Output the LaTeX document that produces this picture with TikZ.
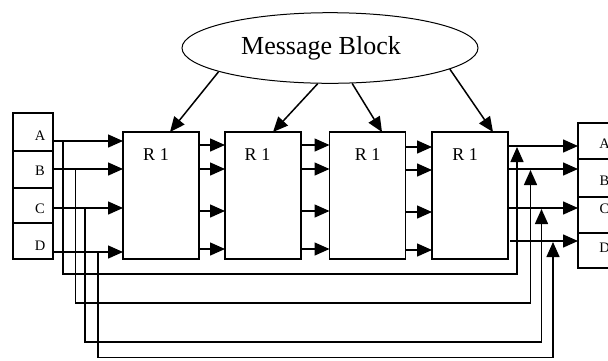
\documentclass[tikz,border=0pt]{standalone}
\usepackage{fontspec}
\setmainfont{Liberation Serif}
\usetikzlibrary{shapes.geometric,arrows.meta,calc}
\begin{document}
\begin{tikzpicture}[x=1pt,y=-1pt,
  wire/.style={line width=1.5pt},
  arr/.style={wire,-{Triangle[length=15pt,width=13pt]}},
  io/.style={draw,line width=1.2pt,minimum width=40pt,inner sep=0pt,outer sep=0pt},
  rbox/.style={draw,line width=1.5pt,minimum width=76pt,minimum height=127pt,inner sep=0pt,outer sep=0pt},
  iolab/.style={font=\fontsize{14.5}{16}\selectfont,inner sep=0pt},
  rlab/.style={font=\fontsize{18}{20}\selectfont,inner sep=0pt}]
\useasboundingbox (0,0) rectangle (608,360);
\clip (0,0) rectangle (608,360);

% message block
\node[draw,ellipse,line width=1pt,minimum width=296pt,minimum height=70.6pt,inner sep=0pt] (mb) at (330,48) {};
\node[font=\fontsize{26}{28}\selectfont,inner sep=0pt] (mbt) at (321,48) {Message Block};

% input words
\node[io,minimum height=38pt] (la) at (33,132) {};
\node[io,minimum height=37pt] (lb) at (33,169.5) {};
\node[io,minimum height=35pt] (lc) at (33,205.5) {};
\node[io,minimum height=36pt] (ld) at (33,241) {};
\node[iolab] (laT) at (40,136) {A};
\node[iolab] (lbT) at (40,171) {B};
\node[iolab] (lcT) at (40,208.5) {C};
\node[iolab] (ldT) at (40,245.5) {D};

% output words
\node[io,minimum height=36pt] (oa) at (598,141) {};
\node[io,minimum height=38pt] (ob) at (598,178) {};
\node[io,minimum height=36pt] (oc) at (598,215) {};
\node[io,minimum height=35pt] (od) at (598,250.5) {};
\node[iolab] (oaT) at (604.5,144) {A};
\node[iolab] (obT) at (604.5,180.5) {B};
\node[iolab] (ocT) at (604.5,209) {C};
\node[iolab] (odT) at (604.5,247.5) {D};

% rounds
\node[rbox] (r1) at (161,195.5) {};
\node[rbox] (r2) at (263,195.5) {};
\node[rbox] (r3) at (367.5,195.5) {};
\node[rbox] (r4) at (470,195.5) {};
\node[rlab] (r1T) at (156,155) {R 1};
\node[rlab] (r2T) at (257.5,155) {R 1};
\node[rlab] (r3T) at (367.5,155) {R 1};
\node[rlab] (r4T) at (465,155) {R 1};

% message block feeds every round
\draw[arr] (mb.-168.1) -- ($(r1.north)+(9,0)$);
\draw[arr] (mb.-109.4) -- ($(r2.north)+(10,0)$);
\draw[arr] (mb.-58.1) -- ($(r3.north)+(14.5,0)$);
\draw[arr] (mb.-10.6) -- ($(r4.north)+(23,0)$);

% inputs into the first round
\draw[arr] (la.east |- 0,141) -- (r1.west |- 0,141);
\draw[arr] (lb.east |- 0,169) -- (r1.west |- 0,169);
\draw[arr] (lc.east |- 0,208) -- (r1.west |- 0,208);
\draw[arr] (ld.east |- 0,252) -- (r1.west |- 0,252);

% round to round
\foreach \y in {145,169,211,249} {
  \draw[arr] (r1.east |- 0,\y) -- (r2.west |- 0,\y);
  \draw[arr] (r2.east |- 0,\y) -- (r3.west |- 0,\y);
}
\foreach \y in {147,170,212,250}
  \draw[arr] (r3.east |- 0,\y) -- (r4.west |- 0,\y);

% last round to outputs
\draw[arr] (r4.east |- 0,146) -- (oa.west |- 0,146);
\draw[arr] (r4.east |- 0,169) -- (ob.west |- 0,169);
\draw[arr] (r4.east |- 0,208) -- (oc.west |- 0,208);
\draw[arr] ($(r4.east |- 0,241)+(2,0)$) -- (od.west |- 0,241);

% feed-forward of the input words
\coordinate (tapA) at (63,141);
\coordinate (tapB) at (75.5,169);
\coordinate (tapC) at (85,208);
\coordinate (tapD) at (98,252);
\coordinate (joinA) at (517,147);
\coordinate (joinB) at (530.5,170);
\coordinate (joinC) at (541.5,209);
\coordinate (joinD) at (553,242);
\draw[arr] (tapA) -- (tapA |- 0,274) -| (joinA);
\draw[arr] (tapB) -- (tapB |- 0,303) -| (joinB);
\draw[arr] (tapC) -- (tapC |- 0,342) -| (joinC);
\draw[arr] (tapD) -- (tapD |- 0,357.5) -| (joinD);
\end{tikzpicture}
\end{document}
